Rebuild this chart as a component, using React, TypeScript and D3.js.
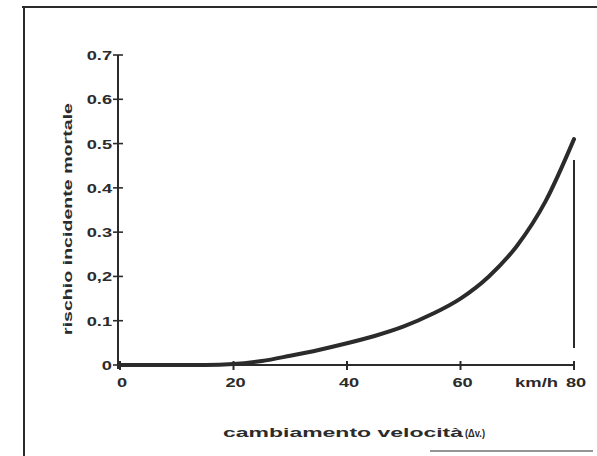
import React from "react";
import * as d3 from "d3";

// Speed change (km/h) and fatal-accident risk
const speedChange = [0, 5, 10, 15, 20, 25, 30, 35, 40, 45, 50, 55, 60, 65, 70, 75, 80];
const fatalRisk = [0, 0, 0, 0, 0.002, 0.009, 0.021, 0.034, 0.049, 0.066, 0.087, 0.115, 0.15, 0.2, 0.27, 0.37, 0.51];

const yTicks = [0, 0.1, 0.2, 0.3, 0.4, 0.5, 0.6, 0.7];
const yTickLabels = ["0", "0.1", "0,2", "0.3", "0.4", "0.5", "0.6", "0.7"];
const xTicks = [0, 20, 40, 60, 80];
const xTickLabels = ["0", "20", "40", "60", "80"];
const xUnit = "km/h";

const yTitle = "rischio incidente mortale";
const xTitle = "cambiamento velocità";
const xTitleSuffix = "(Δv.)";

const W = 597;
const H = 456;
const ink = "#2b2b2b";
const font = "'Liberation Sans', Arial, sans-serif";

export default function App() {
  const x = d3.scaleLinear().domain([0, 80]).range([120, 574]);
  const y = d3.scaleLinear().domain([0, 0.7]).range([365, 55]);

  const points = speedChange.map((s, i) => [s, fatalRisk[i]] as [number, number]);
  const line = d3
    .line<[number, number]>()
    .x((d) => x(d[0]))
    .y((d) => y(d[1]))
    .curve(d3.curveMonotoneX);

  return (
    <svg
      width={W}
      height={H}
      style={{ position: "absolute", left: 0, top: 0, background: "#fff" }}
    >
      {/* frame edges */}
      <line x1={22} y1={7} x2={W} y2={7} stroke={ink} strokeWidth={2} />
      <line x1={24} y1={6} x2={24} y2={H} stroke={ink} strokeWidth={2} />
      <line x1={430} y1={451} x2={593} y2={451} stroke={ink} strokeWidth={1} />

      {/* y axis */}
      <line x1={x(0) - 2} y1={y(0.7)} x2={x(0) - 2} y2={y(0) + 4} stroke={ink} strokeWidth={2} />
      {yTicks.map((t, i) => (
        <g key={"yt" + i}>
          <line x1={x(0) - 7} x2={x(0) + 3} y1={y(t)} y2={y(t)} stroke={ink} strokeWidth={1.6} />
          <text
            transform={`translate(${x(0) - 8},${y(t) + 5}) scale(1.35,1)`}
            textAnchor="end"
            fontFamily={font}
            fontWeight="bold"
            fontSize={13.5}
            fill={ink}
          >
            {yTickLabels[i]}
          </text>
        </g>
      ))}

      {/* x axis */}
      <line x1={x(0) - 2} y1={y(0)} x2={x(80)} y2={y(0)} stroke={ink} strokeWidth={2} />
      {xTicks.map((t, i) => (
        <g key={"xt" + i}>
          <line x1={x(t)} x2={x(t)} y1={y(0) - 4} y2={y(0) + 5} stroke={ink} strokeWidth={2} />
          <text
            transform={`translate(${x(t) + 2},${y(0) + 22}) scale(1.35,1)`}
            textAnchor="middle"
            fontFamily={font}
            fontWeight="bold"
            fontSize={13.5}
            fill={ink}
          >
            {xTickLabels[i]}
          </text>
        </g>
      ))}
      <text
        x={558}
        y={y(0) + 22}
        textAnchor="end"
        textLength={43}
        lengthAdjust="spacingAndGlyphs"
        fontFamily={font}
        fontWeight="bold"
        fontSize={13}
        fill={ink}
      >
        {xUnit}
      </text>

      {/* vertical marker at 80 km/h */}
      <line x1={x(80)} x2={x(80)} y1={160} y2={348} stroke={ink} strokeWidth={2} />

      {/* risk curve */}
      <path d={line(points) ?? ""} fill="none" stroke={ink} strokeWidth={4} strokeLinecap="round" />

      {/* axis titles */}
      <text
        transform={`translate(72,219) rotate(-90)`}
        textAnchor="middle"
        textLength={232}
        lengthAdjust="spacingAndGlyphs"
        fontFamily={font}
        fontWeight="bold"
        fontSize={12.5}
        fill={ink}
      >
        {yTitle}
      </text>
      <text
        x={223}
        y={437}
        textLength={240}
        lengthAdjust="spacingAndGlyphs"
        fontFamily={font}
        fontWeight="bold"
        fontSize={13}
        fill={ink}
      >
        {xTitle}
      </text>
      <text
        x={465}
        y={437}
        textLength={20}
        lengthAdjust="spacingAndGlyphs"
        fontFamily={font}
        fontWeight="bold"
        fontSize={11}
        fill={ink}
      >
        {xTitleSuffix}
      </text>
    </svg>
  );
}
